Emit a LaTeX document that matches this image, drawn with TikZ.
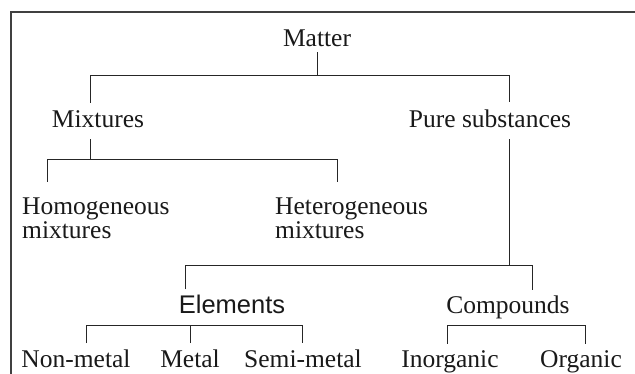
\documentclass[tikz,border=0pt]{standalone}
\usepackage{fontspec}
\setmainfont{Liberation Serif}
\newfontfamily\elemfont{Liberation Sans}
\usetikzlibrary{calc}

\tikzset{
  lbl/.style={inner sep=0pt, text=black!90, font=\fontsize{25.5}{22}\selectfont},
  link/.style={draw=black!85, line width=1pt},
  frame/.style={draw=black!75, line width=1.1pt}
}

\begin{document}
\begin{tikzpicture}[x=1pt, y=-1pt]
    \useasboundingbox (0,0) rectangle (635,374);
    \clip (0,0) rectangle (635,374);
    \draw[frame] (11,400) -- (11,12) -- (660,12); % outer box

    \node[lbl, anchor=base] (matter) at (317,47) {Matter};
    \node[lbl, anchor=base] (mix) at (98,128) {Mixtures};
    \node[lbl, anchor=base] (pure) at (490,128) {Pure substances};
    \node[lbl, anchor=north west, align=left] (homo) at (22,198) {Homogeneous\\mixtures};
    \node[lbl, anchor=north west, align=left] (hetero) at (275,198) {Heterogeneous\\mixtures};
    \node[lbl, anchor=base, font=\elemfont\fontsize{25.5}{22}\selectfont] (elem) at (232,314) {Elements};
    \node[lbl, anchor=base] (comp) at (508,314) {Compounds};
    \node[lbl, anchor=base] (nonmet) at (76,367) {Non-metal};
    \node[lbl, anchor=base] (metal) at (190,367) {Metal};
    \node[lbl, anchor=base] (semimet) at (303,367) {Semi-metal};
    \node[lbl, anchor=base] (inorg) at (450,367) {Inorganic};
    \node[lbl, anchor=base] (org) at (581,367) {Organic};

    % bar corners
    \coordinate (j-mix) at (90,76);
    \coordinate (j-pure) at (509,76);
    \coordinate (j-mixdn) at (90,160);
    \coordinate (j-homo) at (47,160);
    \coordinate (j-hetero) at (337,160);
    \coordinate (j-puredn) at (509,266);
    \coordinate (j-elem) at (185,266);
    \coordinate (j-comp) at (532,266);
    \coordinate (j-nm) at (86,326);
    \coordinate (j-sm) at (302,326);
    \coordinate (j-in) at (447,326);
    \coordinate (j-or) at (585,326);

    \draw[link] ($(matter.south)+(0,5)$) -- (matter.south |- j-mix);
    \draw[link] ($(mix.north -| j-mix)+(0,-8)$) -- (j-mix) -- (j-pure) -- ($(pure.north -| j-pure)+(0,-8)$);

    \draw[link] ($(mix.south -| j-mix)+(0,11)$) -- (j-mixdn);
    \draw[link] ($(homo.north -| j-homo)+(0,-16)$) -- (j-homo) -- (j-hetero) -- ($(hetero.north -| j-hetero)+(0,-16)$);

    \draw[link] ($(pure.south -| j-pure)+(0,11)$) -- (j-puredn);
    \draw[link] ($(elem.north -| j-elem)+(0,-6)$) -- (j-elem) -- (j-comp) -- ($(comp.north -| j-comp)+(0,-6)$);

    \draw[link] ($(nonmet.north -| j-nm)+(0,-6)$) -- (j-nm) -- (j-sm) -- ($(semimet.north -| j-sm)+(0,-6)$);
    \draw[link] ($(metal.north)+(0,-6)$) -- (metal.north |- j-nm);
    \draw[link] ($(inorg.north -| j-in)+(0,-6)$) -- (j-in) -- (j-or) -- ($(org.north -| j-or)+(0,-6)$);
\end{tikzpicture}
\end{document}
